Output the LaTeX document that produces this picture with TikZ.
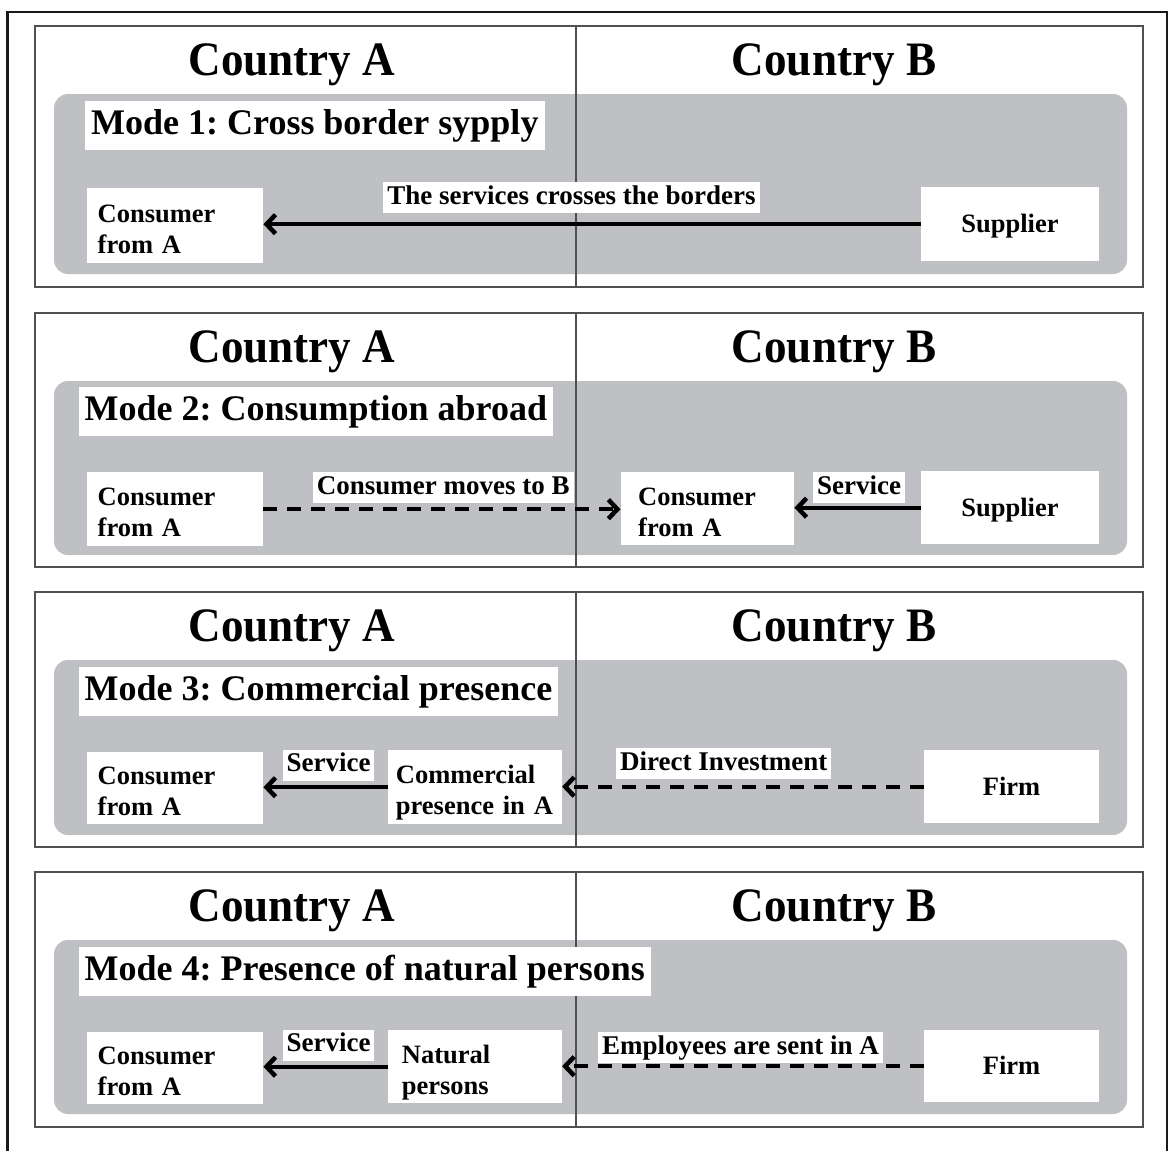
\documentclass[tikz,border=0pt]{standalone}
\usepackage{fontspec}
\setmainfont{Liberation Serif}
\newfontfamily\titlefont{Liberation Serif}[FakeStretch=0.94]
\usetikzlibrary{arrows.meta}
\definecolor{bandgray}{RGB}{191,192,196}
\definecolor{framegray}{RGB}{80,80,80}

\begin{document}
\frenchspacing
\begin{tikzpicture}[x=1pt,y=-1pt,
  panel/.style={draw=framegray, line width=1.4pt, fill=white},
  band/.style={fill=bandgray, rounded corners=14pt},
  divider/.style={draw=framegray, line width=1.5pt},
  country/.style={font=\titlefont\bfseries\fontsize{48}{52}\selectfont, anchor=base, inner sep=0pt},
  modetitle/.style={fill=white, anchor=north west, inner xsep=6pt, inner ysep=0pt,
    text height=26pt, text depth=9pt, minimum height=49pt,
    font=\bfseries\fontsize{36}{40}\selectfont},
  actor/.style={fill=white, anchor=north west, minimum height=74pt, inner ysep=0pt,
    text height=20pt, text depth=3pt,
    font=\bfseries\fontsize{26.5}{31}\selectfont},
  party/.style={actor, align=left, text height=26pt, text depth=33pt},
  lbl/.style={fill=white, inner xsep=4pt, inner ysep=3pt, text height=19pt, text depth=6pt,
    font=\bfseries\fontsize{27}{31}\selectfont},
  flow/.style={line width=4pt, -{Straight Barb[length=9pt,width=19pt,line width=4.5pt]}},
  flowdash/.style={flow, dash pattern=on 14pt off 10pt}
]
\useasboundingbox (0,0) rectangle (1172,1151);

% outer frame, open at the bottom
\draw[line width=2.5pt, black!90] (7.5,1151) -- (7.5,12) -- (1167,12) -- (1167,1151);

% ---------- Mode 1 ----------
\begin{scope}[shift={(0,26)}]
\draw[panel] (35,0) rectangle (1143,261);
\fill[band] (54,68) rectangle (1127,248);
\draw[divider] (576,0) -- (576,261);
\node[country] (m1a) at (292,49) {Country A};
\node[country] (m1b) at (834,49) {Country B};
\node[modetitle] (m1t) at (85,75) {Mode 1: Cross border sypply};
\node[party, text width=154.5pt, inner xsep=11pt, minimum height=75pt] (m1c) at (86.5,162) {Consumer\\from A};
\node[actor, minimum width=177.6pt] (m1s) at (921,161) {Supplier};
\draw[flow] (m1s.west) -- (m1s.west -| m1c.east);
\node[lbl] (m1l) at (571.5,171.5) {The services crosses the borders};
\end{scope}

% ---------- Mode 2 ----------
\begin{scope}[shift={(0,313)}]
\draw[panel] (35,0) rectangle (1143,254);
\fill[band] (54,68) rectangle (1127,242);
\draw[divider] (576,0) -- (576,254);
\node[country] (m2a) at (292,49) {Country A};
\node[country] (m2b) at (834,49) {Country B};
\node[modetitle] (m2t) at (78.5,74) {Mode 2: Consumption abroad};
\node[party, text width=154.5pt, inner xsep=11pt] (m2c) at (86.5,159) {Consumer\\from A};
\node[party, text width=138.5pt, inner xsep=17.5pt, minimum height=73pt] (m2d) at (620.5,159) {Consumer\\from A};
\node[actor, minimum width=177.6pt, minimum height=73pt] (m2s) at (921,158) {Supplier};
\draw[flowdash] (m2c.east) -- (m2c.east -| m2d.west);
\draw[flow] (m2s.west) -- (m2s.west -| m2d.east);
\node[lbl] (m2l) at (443.3,174.5) {Consumer moves to B};
\node[lbl] (m2k) at (859,174.5) {Service};
\end{scope}

% ---------- Mode 3 ----------
\begin{scope}[shift={(0,592)}]
\draw[panel] (35,0) rectangle (1143,255);
\fill[band] (54,68) rectangle (1127,243);
\draw[divider] (576,0) -- (576,255);
\node[country] (m3a) at (292,49) {Country A};
\node[country] (m3b) at (834,49) {Country B};
\node[modetitle] (m3t) at (78.5,75) {Mode 3: Commercial presence};
\node[party, text width=154.5pt, inner xsep=11pt, minimum height=72pt] (m3c) at (86.5,160) {Consumer\\from A};
\node[party, text width=166pt, inner xsep=4pt] (m3p) at (387.7,158) {\hspace*{4pt}Commercial\\\hspace*{4pt}presence in A};
\node[actor, minimum width=174.6pt, minimum height=73pt] (m3f) at (924,158) {Firm};
\draw[flow] (m3p.west) -- (m3p.west -| m3c.east);
\draw[flowdash] (m3f.west) -- (m3f.west -| m3p.east);
\node[lbl] (m3k) at (328.5,173) {Service};
\node[lbl] (m3l) at (723.8,171.5) {Direct Investment};
\end{scope}

% ---------- Mode 4 ----------
\begin{scope}[shift={(0,872)}]
\draw[panel] (35,0) rectangle (1143,255);
\fill[band] (54,68) rectangle (1127,242);
\draw[divider] (576,0) -- (576,255);
\node[country] (m4a) at (292,49) {Country A};
\node[country] (m4b) at (834,49) {Country B};
\node[modetitle] (m4t) at (78.5,75) {Mode 4: Presence of natural persons};
\node[party, text width=154.5pt, inner xsep=11pt, minimum height=72pt] (m4c) at (86.5,160) {Consumer\\from A};
\node[party, text width=146pt, inner xsep=14pt, minimum height=73pt] (m4p) at (387.7,158) {Natural\\persons};
\node[actor, minimum width=174.6pt, minimum height=72pt] (m4f) at (924,158) {Firm};
\draw[flow] (m4p.west) -- (m4p.west -| m4c.east);
\draw[flowdash] (m4f.west) -- (m4f.west -| m4p.east);
\node[lbl] (m4k) at (328.5,173) {Service};
\node[lbl] (m4l) at (740.5,175.5) {Employees are sent in A};
\end{scope}
\end{tikzpicture}
\end{document}
